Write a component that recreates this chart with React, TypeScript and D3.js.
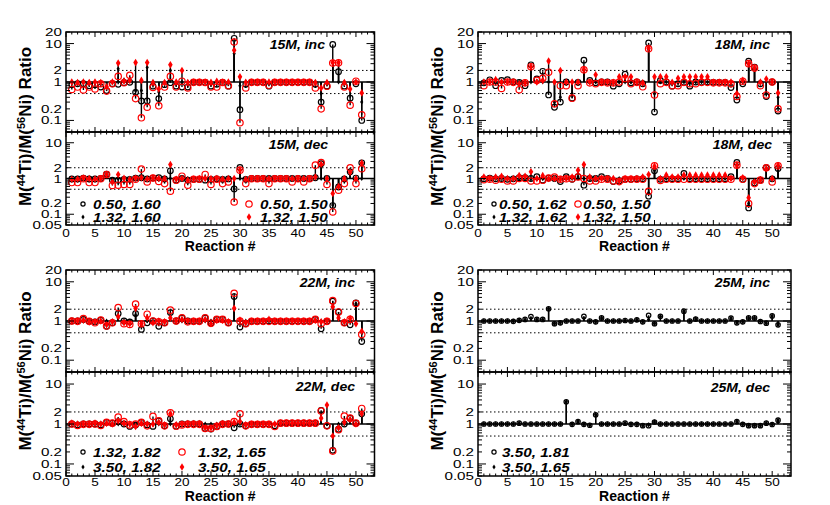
import React from 'react';
import * as d3 from 'd3';

const FONT = '"Liberation Sans", Arial, Helvetica, sans-serif';

// reaction numbers 1..51
const reactions = Array.from({ length: 51 }, (_, i) => i + 1);

const upperLabels = [0.1, 0.2, 1, 2, 10, 20];
const lowerLabels = [0.05, 0.1, 0.2, 1, 2, 10];
const xLabels = [0, 5, 10, 15, 20, 25, 30, 35, 40, 45, 50];

// ---- 15M ----
const inc15BlackCircle = [0.85,0.9,0.9,0.8,0.85,0.74,0.6,0.9,0.87,0.96, 0.98,0.54,0.32,0.32,0.78,0.37,0.85,0.96,0.78,0.74, 0.74,0.98,0.98,0.97,0.78,0.87,0.97,0.78,13.7,0.19, 0.87,0.98,0.98,0.98,0.78,0.98,0.98,0.98,0.98,0.98, 0.98,0.98,0.87,0.3,0.78,9.5,1.85,0.78,0.38,0.9, 0.1];
const inc15BlackDiamond = [1,1,1,1,1,1,0.75,1,2.2,1.13, 1.2,0.6,0.6,2.4,1,0.55,1,2.0,1,1, 1,1,1,1,1,1,1,1,5.5,0.8, 1,1,1,1,1,1,1,1,1,1, 1,1,1,0.5,1,3.1,1,1,0.66,1, 0.3];
const inc15RedCircle = [0.64,0.74,0.62,0.74,0.66,0.9,0.58,0.9,1.4,0.96, 1.5,0.37,0.117,0.22,0.72,0.24,0.74,1.4,0.74,1.05, 0.7,0.98,0.98,0.97,0.74,0.74,0.97,0.8,11,0.087, 0.7,0.98,0.98,0.98,0.82,0.98,0.98,0.98,0.98,0.98, 0.98,0.98,0.7,0.2,0.78,3.1,3.15,0.74,0.25,1.05, 0.14];
const inc15RedDiamond = [1,0.97,1,0.97,1,0.97,0.75,1,3.1,1.05, 1.1,3.2,1.1,3.2,0.97,0.66,0.97,2.8,1,2.0, 0.97,1,1,1,0.98,1.05,1,1,6.7,1.36, 0.98,1,1,1,1,1,1,1,1,1, 1,1,0.97,0.7,0.97,3.2,3.2,0.97,0.66,1, 0.52];

const dec15BlackCircle = [0.97,0.97,1.03,0.97,0.97,1,1.32,0.9,0.9,0.95, 0.95,1.03,1.05,0.97,1.03,1.05,0.97,1.64,0.9,1, 0.9,0.95,0.95,0.9,0.95,0.98,0.95,0.97,0.51,2.03, 0.95,1,1,1,1,1,1,1,1,1, 1,1,1.05,2.6,1,0.175,0.58,0.97,1.54,1.03, 2.75];
const dec15BlackDiamond = [1,1,1,1,1,1,1.38,0.9,1,1, 1,1,1.05,1,1.03,1,1,1,1,1, 1,1,1,1,1,1,1,1,0.51,1, 1,1,1,1,1,1,1,1,1,1, 1,1,1.1,1,1,0.18,0.6,1,1.5,1, 1];
const dec15RedCircle = [0.77,0.77,0.98,0.77,0.77,0.98,1.3,0.64,0.65,0.68, 0.68,0.95,1.83,0.8,1.03,0.83,0.72,0.44,0.9,1.16, 0.65,0.95,0.95,1.3,0.68,0.95,0.72,0.8,0.22,1.71, 0.72,0.98,0.98,0.98,0.72,0.98,0.98,0.98,0.8,0.98, 0.8,0.98,2.36,2.8,0.68,0.116,0.47,0.72,2.0,0.72, 1.87];
const dec15RedDiamond = [0.95,0.97,1.03,1,0.97,1,1.3,0.8,1.3,1.02, 0.95,1.02,1.05,0.97,1.03,1,1,2.45,0.95,1, 0.9,0.97,1,1,1,1,0.97,1,1,1.7, 0.95,1,1,1,1,1,1,1,1,1, 1,1,1.1,2.5,1,0.38,0.6,1,1.5,1, 2.7];

// ---- 18M ----
const inc18BlackCircle = [0.95,1.14,0.8,1.1,1.15,1,0.98,0.8,2.8,1.2, 1.9,0.46,0.22,0.3,1,0.38,0.98,3.7,1.1,0.95, 1,1,0.78,0.9,1.6,0.95,1,0.9,10.4,0.165, 1.1,1,0.78,0.9,0.98,0.78,1,0.98,1,0.98, 0.98,0.98,0.72,0.34,0.9,3.5,2.45,0.9,0.42,1, 0.175];
const inc18BlackDiamond = [1,1,1,1,1,1,1,1,1,1, 1,1,0.3,0.4,1,0.5,1,2.0,1,1, 1,1,1,1,1,1,1,1,7.0,0.5, 1,1,1,1,1,1,1,1,1,1, 1,1,1,0.5,1,3.0,2.3,1,0.5,1, 0.4];
const inc18RedCircle = [0.8,1,1,0.68,1,0.98,0.63,0.95,2.5,1.1, 1.25,1.8,0.27,0.8,0.8,0.38,0.8,2.07,0.95,0.9, 0.98,0.95,0.95,1,1.23,0.9,0.98,0.75,7.3,0.46, 0.9,0.98,0.8,0.8,0.98,0.9,0.9,0.98,0.98,0.95, 0.95,0.95,0.9,0.42,1.05,3.0,2.3,0.8,0.46,1, 0.2];
const inc18RedDiamond = [1,1,1.15,1,1,1,0.9,0.95,2.5,1, 1.1,3.5,1,1.98,1,1,1,2.1,1,1.55, 1,1,0.98,1.36,1.36,1.36,1,0.95,7.6,1.36, 1.36,1.36,0.98,1.25,1.36,1.36,1.36,1.36,1.36,1, 1,1,1,0.5,1.1,3.0,2.3,1,1.2,1, 0.52];

const dec18BlackCircle = [0.98,1.03,0.98,1,0.95,0.98,1.05,1.05,1,1.12, 0.9,1.03,1,0.82,1.12,0.95,1.12,0.65,1,1, 1.12,1,0.82,0.85,0.95,0.95,0.98,0.98,0.32,1.64, 0.95,0.98,0.98,0.98,1.38,0.98,0.98,0.98,0.98,0.98, 0.98,0.98,1.12,2.8,0.95,0.15,0.75,0.9,2,0.98, 1.9];
const dec18BlackDiamond = [1,1,1,1,1,1,1,1,1,1, 1,1,1,1,1,1,1.1,1,1,1, 1,1,1,1,1,1,1,1,0.4,1.7, 1,1,1,1,1,1,1,1,1,1, 1,1,1,2.5,1,0.2,0.8,1,1.9,1, 2];
const dec18RedCircle = [0.93,0.95,0.9,0.95,0.85,0.85,1,1,0.85,0.85, 0.9,1.03,1.1,0.95,0.98,0.98,1.1,1,0.85,0.85, 0.95,0.95,0.85,0.82,0.95,0.95,0.95,0.95,0.44,2.26, 0.88,0.95,0.95,0.95,0.95,0.95,0.95,0.95,0.95,0.95, 0.95,0.95,0.95,2.36,0.95,0.2,0.72,0.9,2,0.8, 2.26];
const dec18RedDiamond = [1.1,1,1.1,1.15,1,1,1.2,1.15,1.54,1, 1.2,1,1,0.95,1,1.1,1.7,2.45,1.1,1, 1,1,1,0.85,1,1,1,1.1,1.3,2.2, 1,1.24,1.1,1.1,1.24,1.24,1.24,1.24,1.24,1.24, 1.24,1.24,1,2.3,1.05,0.29,0.8,0.9,1.9,1, 2.3];

// ---- 22M ----
const inc22BlackCircle = [1,1,1.1,0.98,0.95,1.05,0.73,0.9,1.55,1, 0.95,1.55,0.61,0.9,1,0.73,0.9,1.64,1,1.2, 1,0.98,0.98,1.2,0.88,1.1,1.1,0.9,4.2,0.7, 0.85,0.98,0.98,0.98,1,0.98,0.98,0.98,0.98,0.98, 0.98,0.98,1.1,0.63,0.98,3.2,1.7,0.9,0.8,2.9, 0.3];
const inc22BlackDiamond = [1,1,1,1,1,1,1,1,1.2,1, 1,1.4,0.8,1,1,1,1,1.2,1,1, 1,1,1,1,1,1,1,1,2.0,1, 1,1,1,1,1,1,1,1,1,1, 1,1,1,1,1,2.2,1.2,1,1,2.8, 0.5];
const inc22RedCircle = [1,0.98,1.15,0.98,0.9,1.05,0.75,0.9,2.2,0.85, 0.82,2.7,0.85,1.49,1,0.95,0.9,1.89,1,1.2, 0.95,0.98,0.98,1.2,0.88,1.1,1.1,0.9,5.1,1, 0.85,0.98,0.98,0.98,0.98,0.98,0.98,0.98,0.98,0.98, 0.98,0.98,1.1,0.85,0.98,3.3,1.7,0.9,1.1,2.8, 0.45];
const inc22RedDiamond = [1,1,1.05,0.95,0.95,1,0.8,0.95,1.3,0.9, 0.85,2.1,0.85,1.2,0.9,1,0.95,1.2,1,1.1, 1,1,1,1.1,0.85,1.05,1.05,0.95,2.1,1.05, 0.9,1,1,1,1.1,1,1,1,1,1, 1,1,1.05,0.95,1,2.3,1.2,0.95,1.15,0.85, 0.55];

const dec22BlackCircle = [1,0.95,1,1,1,0.95,1.1,1.05,1.15,1, 0.87,0.95,1.1,0.95,0.87,1.2,0.9,1.35,0.88,1, 1,1,1,0.77,0.75,0.87,1,1,0.8,1, 0.9,0.98,0.98,0.98,0.98,0.9,1.05,1.05,1.05,1.05, 1.05,1.05,1.05,2.2,0.9,0.22,0.74,1,1.4,1.05, 1.8];
const dec22BlackDiamond = [1,1,1,1,1,1,1,1,1,1, 1,1,1,1,1,1,1,1,1,1, 1,1,1,1,1,1,1,1,1,1, 1,1,1,1,1,1,1,1,1,1, 1,1,1,1.4,1,0.5,1,1,1.3,1, 1.8];
const dec22RedCircle = [1,0.92,0.98,0.98,1,0.92,1.1,1.05,1.49,1.15, 0.95,1,1.1,0.9,1.55,1.2,0.9,1.9,0.88,0.95, 0.98,0.98,0.98,0.77,0.77,0.87,0.98,1,1.15,1.8, 0.9,0.98,0.98,0.98,0.98,0.87,1.05,1.05,1.05,1.05, 1.05,1.05,1.05,2.1,0.9,0.21,0.72,1.58,1.4,1.05, 2.45];
const dec22RedDiamond = [1.05,1,1,1,1.05,1,1.05,1,1.2,1.05, 1,0.87,1.05,1,1,1.1,0.95,1.8,0.95,1, 1.02,1.02,1.02,0.8,0.8,0.9,1.02,1,1.1,1.15, 0.95,1,1,1,1,1,1.05,1.05,1.05,1.05, 1.05,1.05,1.05,1.4,3.0,0.5,0.8,1.1,1.3,1, 1.8];

// ---- 25M ----
const inc25BlackCircle = [1,1,1,1,1,0.98,1.04,1.1,1.3,1.1, 1.1,2.05,0.85,0.9,1,1,1,1.32,1,0.95, 1.2,1,1,1,1.03,1,1.07,0.95,1.4,0.85, 1.32,1,1,1,1.78,1,1.12,1,1,1, 1,1,1.18,0.9,0.95,1.2,1.2,0.97,0.88,1.35, 0.8];
const inc25BlackDiamond = [1,1,1,1,1,0.98,1.04,1.08,1.15,1.1, 1.1,2.05,0.85,0.9,1,1,1,1.15,1,0.95, 1.2,1,1,1,1.03,1,1.07,0.95,1.1,0.85, 1.3,1,1,1,1.78,1,1.12,1,1,1, 1,1,1.18,0.9,0.95,1.2,1.2,0.97,0.88,1.35, 0.8];
const dec25BlackCircle = [1,1,1,1,1,1,1.05,1,1,1, 1,1,1,1,3.6,0.98,1.15,0.98,0.93,1.7, 1,1,1,1,1.05,0.98,0.98,0.91,0.91,1.12, 1,1,1,1,1,1,1,1,1,1, 1,1,1,1.15,0.98,0.91,0.91,0.91,1.05,0.97, 1.25];
const dec25BlackDiamond = [1,1,1,1,1,1,1.05,1,1,1, 1,1,1,1,3.6,0.98,1.15,0.98,0.93,1.7, 1,1,1,1,1.05,0.98,0.98,0.91,0.95,1.12, 1,1,1,1,1,1,1,1,1,1, 1,1,1,1.15,0.98,0.91,0.91,0.91,1.05,0.97, 1.25];

type Kind = 'bc' | 'bd' | 'rc' | 'rd';
interface Series { kind: Kind; values: number[] }

// s scales the marker (legend / 25M markers are drawn smaller)
const MarkerShape = ({ kind, x, y, s = 1 }: { kind: Kind; x: number; y: number; s?: number }) => {
  if (kind === 'bc' || kind === 'rc') {
    const r = (kind === 'bc' ? 2.8 : 3.2) * s;
    return <circle cx={x} cy={y} r={r} fill="none" stroke={kind === 'bc' ? '#000' : '#ff0000'} strokeWidth={1.2} />;
  }
  const w = (kind === 'bd' ? 1.6 : 2.3) * (s < 1 ? 1.1 : 1);
  const h = (kind === 'bd' ? 2.6 : 3.8) * (s < 1 ? 1.05 : 1);
  return <path d={`M${x},${y - h}L${x + w},${y}L${x},${y + h}L${x - w},${y}Z`} fill={kind === 'bd' ? '#000' : '#ff0000'} />;
};

// horizontally stretched text, like the original
const WideText = ({ x, y, sx, children, ...rest }: any) => (
  <text transform={`translate(${x},${y}) scale(${sx},1)`} fontFamily={FONT} {...rest}>{children}</text>
);

interface SubProps {
  x0: number; x1: number; top: number; bottom: number;
  series: Series[]; labels: number[]; ms: number;
  tag: string; tagX: number; tagY: number;
}

const SubPanel = ({ x0, x1, top, bottom, series, labels, ms, tag, tagX, tagY }: SubProps) => {
  const x = d3.scaleLinear().domain([0, 53.2]).range([x0, x1]);
  const y = d3.scaleLog().domain([0.05, 20]).range([bottom, top]);
  const yTicks = y.ticks();
  const isMajor = (t: number) => Math.abs(Math.log10(t) - Math.round(Math.log10(t))) < 1e-6;
  const xTicks = d3.range(0, 54).filter(t => t <= 53.2);

  return (
    <g>
      {[2, 0.5].map(v => (
        <line key={v} x1={x0} x2={x1} y1={y(v)} y2={y(v)} stroke="#000" strokeWidth={1} strokeDasharray="1.5,2.5" />
      ))}
      {series.map(s => s.values.map((v, i) => (
        <line key={`${s.kind}-s${i}`} x1={x(reactions[i])} x2={x(reactions[i])} y1={y(1)} y2={y(v)} stroke="#000" strokeWidth={1.4} />
      )))}
      <line x1={x0} x2={x1} y1={y(1)} y2={y(1)} stroke="#000" strokeWidth={1.6} />
      {series.map(s => s.values.map((v, i) => (
        <MarkerShape key={`${s.kind}-m${i}`} kind={s.kind} x={x(reactions[i])} y={y(v)} s={ms} />
      )))}
      <rect x={x0} y={top} width={x1 - x0} height={bottom - top} fill="none" stroke="#000" strokeWidth={1.5} />
      {xTicks.map(t => {
        const len = t % 5 === 0 ? 5 : 2.5;
        return (
          <g key={`xt${t}`}>
            <line x1={x(t)} x2={x(t)} y1={bottom} y2={bottom - len} stroke="#000" strokeWidth={1} />
            <line x1={x(t)} x2={x(t)} y1={top} y2={top + len} stroke="#000" strokeWidth={1} />
          </g>
        );
      })}
      {yTicks.map(t => {
        const len = isMajor(t) ? 8 : 4;
        return (
          <g key={`yt${t}`}>
            <line x1={x0} x2={x0 + len} y1={y(t)} y2={y(t)} stroke="#000" strokeWidth={1} />
            <line x1={x1} x2={x1 - len} y1={y(t)} y2={y(t)} stroke="#000" strokeWidth={1} />
          </g>
        );
      })}
      {labels.map(t => (
        <WideText key={`yl${t}`} x={x0 - 4} y={y(t) + 4} sx={1.38} textAnchor="end" fontSize={11}>{String(t)}</WideText>
      ))}
      <WideText x={tagX} y={tagY} sx={1.08} textAnchor="end" fontSize={13} fontWeight="bold" fontStyle="italic">{tag}</WideText>
    </g>
  );
};

interface LegendItem { kind: Kind; label: string; mx: number; tx: number; y: number }

interface PanelProps {
  name: string; x0: number; x1: number;
  top: number; mid: number; bottom: number;
  inc: Series[]; dec: Series[]; ms?: number;
  incTag: [number, number]; decTag: [number, number];
  legend: LegendItem[];
}

const Panel = ({ name, x0, x1, top, mid, bottom, inc, dec, ms = 1, incTag, decTag, legend }: PanelProps) => {
  const x = d3.scaleLinear().domain([0, 53.2]).range([x0, x1]);
  const firstRow = top < 100;
  const labelY = bottom + (firstRow ? 11.5 : 9.5);
  const titleY = bottom + (firstRow ? 26 : 25);
  const yTitleX = x0 - 35;
  const yTitleY = (top + bottom) / 2 - 2;
  return (
    <g>
      <SubPanel x0={x0} x1={x1} top={top} bottom={mid} series={inc} labels={upperLabels} ms={ms} tag={`${name}, inc`} tagX={incTag[0]} tagY={incTag[1]} />
      <SubPanel x0={x0} x1={x1} top={mid} bottom={bottom} series={dec} labels={lowerLabels} ms={ms} tag={`${name}, dec`} tagX={decTag[0]} tagY={decTag[1]} />
      {xLabels.map(t => (
        <WideText key={`xl${t}`} x={x(t)} y={labelY} sx={1.18} textAnchor="middle" fontSize={11.5}>{t}</WideText>
      ))}
      <text x={(x0 + x1) / 2} y={titleY} textAnchor="middle" fontSize={14} fontWeight="bold" fontFamily={FONT}>Reaction #</text>
      <text transform={`translate(${yTitleX},${yTitleY}) rotate(-90)`} textAnchor="middle" fontSize={17} fontWeight="bold" fontFamily={FONT}>
        M(<tspan fontSize={11} dy={-6}>44</tspan><tspan dy={6}>Ti)/M(</tspan><tspan fontSize={11} dy={-6}>56</tspan><tspan dy={6}>Ni) Ratio</tspan>
      </text>
      {legend.map(l => (
        <g key={l.label + l.kind}>
          <MarkerShape kind={l.kind} x={l.mx} y={l.y} s={l.kind === 'bc' ? 0.75 : 1} />
          <WideText x={l.tx} y={l.y + 4.5} sx={1.22} fontSize={12.5} fontWeight="bold" fontStyle="italic">{l.label}</WideText>
        </g>
      ))}
    </g>
  );
};

const mk = (a: number[], b: number[], c: number[], d: number[]): Series[] => [
  { kind: 'bc', values: a }, { kind: 'bd', values: b }, { kind: 'rc', values: c }, { kind: 'rd', values: d },
];

export default function App() {
  const L = { x0: 66, x1: 374.5 };
  const R = { x0: 478, x1: 791 };
  const T = { top: 32, mid: 132, bottom: 225 };
  const B = { top: 270, mid: 372, bottom: 476 };
  return (
    <svg width={830} height={505} style={{ position: 'absolute', left: 0, top: 0, background: '#fff' }}>
      <rect width={830} height={505} fill="#fff" />
      <Panel name="15M" {...L} {...T}
        inc={mk(inc15BlackCircle, inc15BlackDiamond, inc15RedCircle, inc15RedDiamond)}
        dec={mk(dec15BlackCircle, dec15BlackDiamond, dec15RedCircle, dec15RedDiamond)}
        incTag={[325, 49]} decTag={[328, 149]}
        legend={[
          { kind: 'bc', label: '0.50, 1.60', mx: 83, tx: 93, y: 204 },
          { kind: 'bd', label: '1.32, 1.60', mx: 83, tx: 93, y: 217 },
          { kind: 'rc', label: '0.50, 1.50', mx: 249, tx: 260, y: 204 },
          { kind: 'rd', label: '1.32, 1.50', mx: 249, tx: 260, y: 217 },
        ]} />
      <Panel name="18M" {...R} {...T}
        inc={mk(inc18BlackCircle, inc18BlackDiamond, inc18RedCircle, inc18RedDiamond)}
        dec={mk(dec18BlackCircle, dec18BlackDiamond, dec18RedCircle, dec18RedDiamond)}
        incTag={[770, 49]} decTag={[772, 149]}
        legend={[
          { kind: 'bc', label: '0.50, 1.62', mx: 494, tx: 499, y: 204 },
          { kind: 'bd', label: '1.32, 1.62', mx: 494, tx: 499, y: 217 },
          { kind: 'rc', label: '0.50, 1.50', mx: 578, tx: 583, y: 204 },
          { kind: 'rd', label: '1.32, 1.50', mx: 578, tx: 583, y: 217 },
        ]} />
      <Panel name="22M" {...L} {...B}
        inc={mk(inc22BlackCircle, inc22BlackDiamond, inc22RedCircle, inc22RedDiamond)}
        dec={mk(dec22BlackCircle, dec22BlackDiamond, dec22RedCircle, dec22RedDiamond)}
        incTag={[355, 287]} decTag={[355, 391]}
        legend={[
          { kind: 'bc', label: '1.32, 1.82', mx: 83, tx: 93, y: 452 },
          { kind: 'bd', label: '3.50, 1.82', mx: 83, tx: 93, y: 467 },
          { kind: 'rc', label: '1.32, 1.65', mx: 182, tx: 198, y: 452 },
          { kind: 'rd', label: '3.50, 1.65', mx: 182, tx: 198, y: 467 },
        ]} />
      <Panel name="25M" {...R} {...B} ms={0.8}
        inc={[{ kind: 'bc', values: inc25BlackCircle }, { kind: 'bd', values: inc25BlackDiamond }]}
        dec={[{ kind: 'bc', values: dec25BlackCircle }, { kind: 'bd', values: dec25BlackDiamond }]}
        incTag={[770, 287]} decTag={[770, 392]}
        legend={[
          { kind: 'bc', label: '3.50, 1.81', mx: 494, tx: 502, y: 452 },
          { kind: 'bd', label: '3.50, 1.65', mx: 494, tx: 502, y: 467 },
        ]} />
    </svg>
  );
}
